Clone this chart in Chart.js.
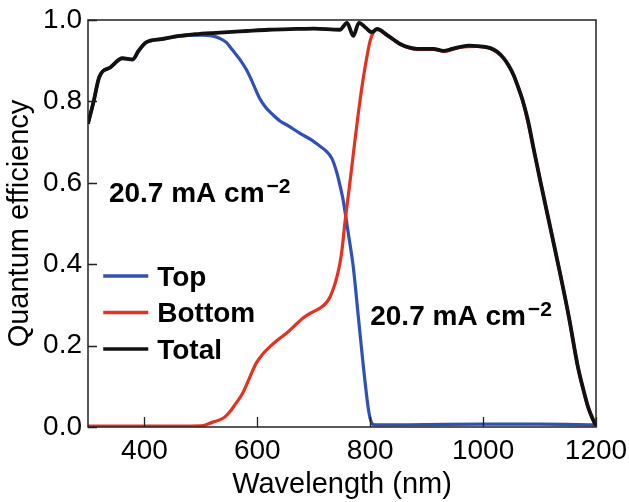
<!DOCTYPE html>
<html>
<head>
<meta charset="utf-8">
<script src="https://cdn.jsdelivr.net/npm/chart.js@4"></script>
<style>
html,body{margin:0;padding:0;background:#fff;}
#wrap{width:629px;height:502px;}
</style>
</head>
<body>
<div id="wrap"><canvas id="c" width="629" height="502"></canvas></div>
<script>
// ---- data ----
const topWl = [300,310,320,340,361,379,390,403,430,462,490,503,520,533,545,556,568,581,592,604,615,627,640,655,675,695,711,722,732,741,747,752,761,770,779,788,797,802,808,900,1000,1100,1200];
const topQE = [0.745,0.80,0.86,0.884,0.906,0.903,0.925,0.945,0.953,0.960,0.963,0.963,0.961,0.955,0.945,0.926,0.905,0.877,0.845,0.808,0.785,0.768,0.752,0.740,0.722,0.706,0.690,0.678,0.660,0.624,0.590,0.558,0.477,0.393,0.270,0.147,0.042,0.012,0.005,0.006,0.007,0.007,0.005];

const bottomWl = [300,400,500,521,540,551,562,574,586,598,610,622,637,652,667,681,696,711,722,729,736,741,746,750,755,764,773,782,791,800,806,812,830,853,883,912,930,960,990,1013,1036,1054,1070,1090,1115,1134,1152,1168,1186,1200];
const bottomQE = [0.002,0.002,0.003,0.012,0.022,0.037,0.058,0.083,0.12,0.157,0.18,0.197,0.215,0.231,0.25,0.268,0.281,0.292,0.305,0.32,0.345,0.369,0.40,0.435,0.50,0.60,0.705,0.803,0.885,0.95,0.97,0.976,0.962,0.940,0.928,0.928,0.923,0.933,0.935,0.930,0.906,0.864,0.803,0.680,0.516,0.393,0.270,0.147,0.049,0.003];

const totalWl = [300,310,320,340,361,379,390,403,430,462,490,520,581,620,670,700,746,759,770,780,792,803,812,830,853,870,883,912,930,945,960,975,990,1013,1025,1036,1045,1054,1062,1070,1080,1090,1102,1115,1134,1152,1168,1178,1186,1194,1200];
const totalQE = [0.745,0.80,0.86,0.884,0.906,0.903,0.925,0.945,0.953,0.961,0.965,0.968,0.973,0.976,0.978,0.979,0.976,0.993,0.961,0.993,0.981,0.970,0.978,0.963,0.941,0.932,0.929,0.929,0.924,0.929,0.934,0.937,0.936,0.931,0.922,0.907,0.889,0.865,0.835,0.803,0.750,0.680,0.600,0.516,0.393,0.270,0.147,0.090,0.049,0.020,0.003];

const seriesNames = ['Top','Bottom','Total'];
const xTickValues = [400,600,800,1000,1200];
const yTickValues = [0.0,0.2,0.4,0.6,0.8,1.0];
const annotationText = '20.7 mA cm';
const annotationSup = '\u22122';

function pts(xs, ys){ return xs.map((x,i)=>({x:x,y:ys[i]})); }

const FONT = "'Liberation Sans', Arial, Helvetica, sans-serif";

const customDraw = {
  id:'customDraw',
  afterDatasetsDraw(chart){
    const ctx = chart.ctx, a = chart.chartArea;
    const xs = chart.scales.x, ys = chart.scales.y;
    ctx.save();
    // frame
    ctx.strokeStyle = '#222';
    ctx.lineWidth = 1.5;
    ctx.strokeRect(a.left, a.top, a.right - a.left, a.bottom - a.top);
    // inward ticks
    ctx.lineWidth = 1.3;
    ctx.beginPath();
    xTickValues.forEach(v=>{
      const px = Math.round(xs.getPixelForValue(v))+0.5;
      ctx.moveTo(px, a.bottom); ctx.lineTo(px, a.bottom - 10);
    });
    yTickValues.forEach(v=>{
      const py = Math.round(ys.getPixelForValue(v))+0.5;
      ctx.moveTo(a.left, py); ctx.lineTo(a.left + 9, py);
    });
    ctx.stroke();

    // legend
    const lx0 = xs.getPixelForValue(327);
    const ly0 = ys.getPixelForValue(0.371);
    chart.data.datasets.forEach((ds,i)=>{
      const y = ly0 + i*36.5;
      ctx.strokeStyle = ds.borderColor;
      ctx.lineWidth = 3.5;
      ctx.beginPath();
      ctx.moveTo(lx0, y); ctx.lineTo(lx0 + 45, y);
      ctx.stroke();
      ctx.fillStyle = '#000';
      ctx.font = "bold 28px " + FONT;
      ctx.textBaseline = 'middle';
      ctx.textAlign = 'left';
      ctx.fillText(ds.label, lx0 + 54, y + 2);
    });

    // annotations
    function annot(xv, yv){
      const x = xs.getPixelForValue(xv), y = ys.getPixelForValue(yv);
      ctx.fillStyle = '#000';
      ctx.textBaseline = 'alphabetic';
      ctx.textAlign = 'left';
      ctx.font = "bold 28px " + FONT;
      ctx.fillText(annotationText, x, y);
      const w = ctx.measureText(annotationText).width;
      ctx.font = "bold 21px " + FONT;
      ctx.fillText(annotationSup, x + w + 2, y - 9);
    }
    annot(337, 0.553);
    annot(800, 0.25);
    ctx.restore();
  }
};

new Chart(document.getElementById('c'), {
  type:'line',
  data:{
    datasets:[
      {label:seriesNames[0], data:pts(topWl, topQE), borderColor:'#2f50b4', borderWidth:3.2, pointRadius:0, cubicInterpolationMode:'monotone', order:2},
      {label:seriesNames[1], data:pts(bottomWl, bottomQE), borderColor:'#e5321f', borderWidth:3.2, pointRadius:0, cubicInterpolationMode:'monotone', order:1},
      {label:seriesNames[2], data:pts(totalWl, totalQE), borderColor:'#111111', borderWidth:3.8, pointRadius:0, cubicInterpolationMode:'monotone', order:0}
    ]
  },
  options:{
    responsive:false,
    animation:false,
    devicePixelRatio:1,
    layout:{padding:{top:20,right:33,left:0,bottom:0}},
    plugins:{legend:{display:false}, tooltip:{enabled:false}},
    scales:{
      x:{
        type:'linear', min:300, max:1200,
        afterBuildTicks(s){ s.ticks = xTickValues.map(v=>({value:v})); },
        afterFit(s){ s.height = 75; s.paddingLeft = 0; s.paddingRight = 0; },
        grid:{display:false, drawTicks:false},
        border:{display:false},
        ticks:{color:'#000', font:{family:FONT, size:28}, padding:7, maxRotation:0, autoSkip:false, callback:(v)=>String(v)},
        title:{display:true, text:'Wavelength (nm)', color:'#000', font:{family:FONT, size:29}, padding:{top:0,bottom:0}}
      },
      y:{
        type:'linear', min:0, max:1,
        afterBuildTicks(s){ s.ticks = yTickValues.map(v=>({value:v})); },
        afterFit(s){ s.width = 88; s.paddingTop = 0; s.paddingBottom = 0; },
        grid:{display:false, drawTicks:false},
        border:{display:false},
        ticks:{color:'#000', font:{family:FONT, size:28}, padding:6, callback:(v)=>Number(v).toFixed(1)},
        title:{display:true, text:'Quantum efficiency', color:'#000', font:{family:FONT, size:29}, padding:{top:3,bottom:4}}
      }
    }
  },
  plugins:[customDraw]
});
</script>
</body>
</html>
